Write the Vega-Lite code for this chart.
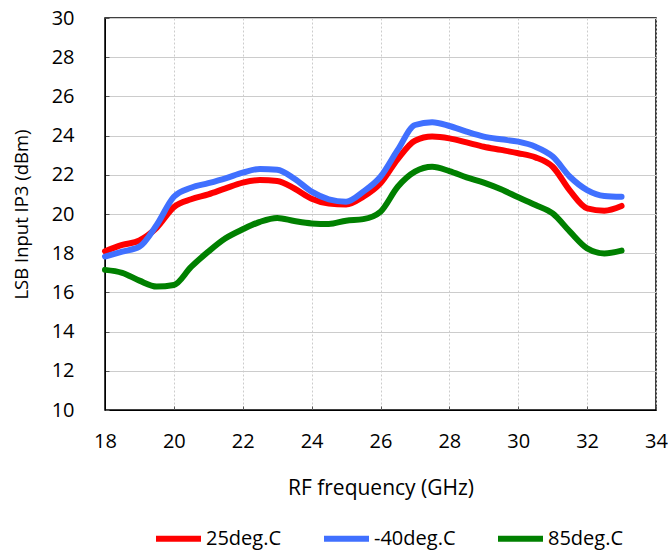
{
  "$schema": "https://vega.github.io/schema/vega-lite/v6.json",
  "width": 551,
  "height": 392,
  "autosize": {"type": "none"},
  "padding": {"left": 105, "top": 18, "right": 12, "bottom": 140},
  "background": "white",
  "config": {
    "font": "Open Sans",
    "view": {"stroke": "#000000", "strokeWidth": 1.5},
    "axis": {
      "labelFont": "Open Sans",
      "titleFont": "Open Sans",
      "labelFontSize": 20,
      "labelColor": "#000000",
      "titleColor": "#000000",
      "titleFontWeight": "normal",
      "domainColor": "#000000",
      "tickColor": "#555555",
      "tickSize": -4,
      "gridColor": "#cccccc",
      "gridWidth": 1
    }
  },
  "data": {
    "values": [
      {"f": 18, "s": "25deg.C", "v": 18.1}, {"f": 18.5, "s": "25deg.C", "v": 18.42}, {"f": 19, "s": "25deg.C", "v": 18.65}, {"f": 19.5, "s": "25deg.C", "v": 19.3}, {"f": 20, "s": "25deg.C", "v": 20.35}, {"f": 20.5, "s": "25deg.C", "v": 20.75}, {"f": 21, "s": "25deg.C", "v": 21.0}, {"f": 21.5, "s": "25deg.C", "v": 21.31}, {"f": 22, "s": "25deg.C", "v": 21.6}, {"f": 22.5, "s": "25deg.C", "v": 21.73}, {"f": 23, "s": "25deg.C", "v": 21.68}, {"f": 23.5, "s": "25deg.C", "v": 21.3}, {"f": 24, "s": "25deg.C", "v": 20.78}, {"f": 24.5, "s": "25deg.C", "v": 20.53}, {"f": 25, "s": "25deg.C", "v": 20.48}, {"f": 25.5, "s": "25deg.C", "v": 20.88}, {"f": 26, "s": "25deg.C", "v": 21.57}, {"f": 26.5, "s": "25deg.C", "v": 22.8}, {"f": 27, "s": "25deg.C", "v": 23.74}, {"f": 27.5, "s": "25deg.C", "v": 23.95}, {"f": 28, "s": "25deg.C", "v": 23.86}, {"f": 28.5, "s": "25deg.C", "v": 23.65}, {"f": 29, "s": "25deg.C", "v": 23.43}, {"f": 29.5, "s": "25deg.C", "v": 23.27}, {"f": 30, "s": "25deg.C", "v": 23.1}, {"f": 30.5, "s": "25deg.C", "v": 22.89}, {"f": 31, "s": "25deg.C", "v": 22.41}, {"f": 31.5, "s": "25deg.C", "v": 21.19}, {"f": 32, "s": "25deg.C", "v": 20.29}, {"f": 32.5, "s": "25deg.C", "v": 20.17}, {"f": 33, "s": "25deg.C", "v": 20.41},
      {"f": 18, "s": "-40deg.C", "v": 17.83}, {"f": 18.5, "s": "-40deg.C", "v": 18.08}, {"f": 19, "s": "-40deg.C", "v": 18.33}, {"f": 19.5, "s": "-40deg.C", "v": 19.44}, {"f": 20, "s": "-40deg.C", "v": 20.88}, {"f": 20.5, "s": "-40deg.C", "v": 21.34}, {"f": 21, "s": "-40deg.C", "v": 21.57}, {"f": 21.5, "s": "-40deg.C", "v": 21.82}, {"f": 22, "s": "-40deg.C", "v": 22.11}, {"f": 22.5, "s": "-40deg.C", "v": 22.3}, {"f": 23, "s": "-40deg.C", "v": 22.26}, {"f": 23.5, "s": "-40deg.C", "v": 21.8}, {"f": 24, "s": "-40deg.C", "v": 21.14}, {"f": 24.5, "s": "-40deg.C", "v": 20.75}, {"f": 25, "s": "-40deg.C", "v": 20.63}, {"f": 25.5, "s": "-40deg.C", "v": 21.14}, {"f": 26, "s": "-40deg.C", "v": 21.9}, {"f": 26.5, "s": "-40deg.C", "v": 23.27}, {"f": 27, "s": "-40deg.C", "v": 24.54}, {"f": 27.5, "s": "-40deg.C", "v": 24.68}, {"f": 28, "s": "-40deg.C", "v": 24.49}, {"f": 28.5, "s": "-40deg.C", "v": 24.2}, {"f": 29, "s": "-40deg.C", "v": 23.95}, {"f": 29.5, "s": "-40deg.C", "v": 23.81}, {"f": 30, "s": "-40deg.C", "v": 23.69}, {"f": 30.5, "s": "-40deg.C", "v": 23.43}, {"f": 31, "s": "-40deg.C", "v": 22.93}, {"f": 31.5, "s": "-40deg.C", "v": 21.9}, {"f": 32, "s": "-40deg.C", "v": 21.22}, {"f": 32.5, "s": "-40deg.C", "v": 20.92}, {"f": 33, "s": "-40deg.C", "v": 20.88},
      {"f": 18, "s": "85deg.C", "v": 17.15}, {"f": 18.5, "s": "85deg.C", "v": 17.0}, {"f": 19, "s": "85deg.C", "v": 16.6}, {"f": 19.5, "s": "85deg.C", "v": 16.3}, {"f": 20, "s": "85deg.C", "v": 16.38}, {"f": 20.5, "s": "85deg.C", "v": 17.3}, {"f": 21, "s": "85deg.C", "v": 18.08}, {"f": 21.5, "s": "85deg.C", "v": 18.76}, {"f": 22, "s": "85deg.C", "v": 19.22}, {"f": 22.5, "s": "85deg.C", "v": 19.6}, {"f": 23, "s": "85deg.C", "v": 19.8}, {"f": 23.5, "s": "85deg.C", "v": 19.64}, {"f": 24, "s": "85deg.C", "v": 19.52}, {"f": 24.5, "s": "85deg.C", "v": 19.49}, {"f": 25, "s": "85deg.C", "v": 19.66}, {"f": 25.5, "s": "85deg.C", "v": 19.74}, {"f": 26, "s": "85deg.C", "v": 20.12}, {"f": 26.5, "s": "85deg.C", "v": 21.39}, {"f": 27, "s": "85deg.C", "v": 22.16}, {"f": 27.5, "s": "85deg.C", "v": 22.41}, {"f": 28, "s": "85deg.C", "v": 22.19}, {"f": 28.5, "s": "85deg.C", "v": 21.87}, {"f": 29, "s": "85deg.C", "v": 21.6}, {"f": 29.5, "s": "85deg.C", "v": 21.26}, {"f": 30, "s": "85deg.C", "v": 20.85}, {"f": 30.5, "s": "85deg.C", "v": 20.46}, {"f": 31, "s": "85deg.C", "v": 20.03}, {"f": 31.5, "s": "85deg.C", "v": 19.1}, {"f": 32, "s": "85deg.C", "v": 18.25}, {"f": 32.5, "s": "85deg.C", "v": 17.99}, {"f": 33, "s": "85deg.C", "v": 18.13}
    ]
  },
  "mark": {"type": "line", "interpolate": "monotone", "strokeWidth": 6, "strokeCap": "round", "strokeJoin": "round"},
  "encoding": {
    "x": {
      "field": "f", "type": "quantitative",
      "scale": {"domain": [18, 34], "nice": false, "zero": false},
      "axis": {"values": [18, 20, 22, 24, 26, 28, 30, 32, 34], "title": "RF frequency (GHz)", "titleFontSize": 21, "gridDash": [2, 2], "labelPadding": 25, "titlePadding": 26, "labelFlush": false}
    },
    "y": {
      "field": "v", "type": "quantitative",
      "scale": {"domain": [10, 30], "nice": false, "zero": false},
      "axis": {"values": [10, 12, 14, 16, 18, 20, 22, 24, 26, 28, 30], "title": "LSB Input IP3 (dBm)", "titleFontSize": 18.5, "labelPadding": 35, "titlePadding": 20, "labelFlush": false}
    },
    "color": {
      "field": "s", "type": "nominal",
      "scale": {"domain": ["25deg.C", "-40deg.C", "85deg.C"], "range": ["#ff0000", "#4070ff", "#008000"]},
      "legend": {
        "title": null,
        "orient": "none",
        "direction": "horizontal",
        "legendX": 48,
        "legendY": 495,
        "padding": 0,
        "symbolType": "stroke",
        "symbolSize": 2025,
        "symbolStrokeWidth": 6,
        "labelFont": "Open Sans",
        "labelFontSize": 20,
        "labelColor": "#000000",
        "labelOffset": 2,
        "columnPadding": 30
      }
    }
  }
}
